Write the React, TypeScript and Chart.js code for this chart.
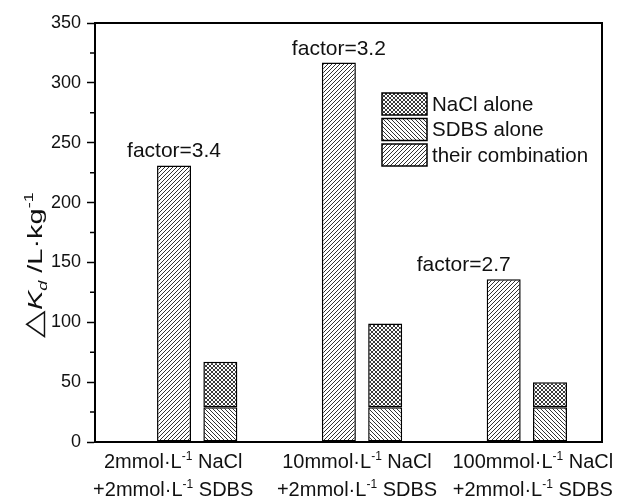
import React, { useEffect, useRef } from 'react';
import { Chart, registerables } from 'chart.js';

Chart.register(...registerables);

// ---------- data ----------
const categories: string[][] = [
  ['2mmol·L^{-1} NaCl', '+2mmol·L^{-1} SDBS'],
  ['10mmol·L^{-1} NaCl', '+2mmol·L^{-1} SDBS'],
  ['100mmol·L^{-1} NaCl', '+2mmol·L^{-1} SDBS'],
];
const combination = [231, 317, 136];
const sdbsAlone = [29, 29, 29];
const naclAlone = [38, 70, 21];
const factorLabels = ['factor=3.4', 'factor=3.2', 'factor=2.7'];
const seriesNames = { combination: 'their combination', sdbs: 'SDBS alone', nacl: 'NaCl alone' };
const yTickValues = [0, 50, 100, 150, 200, 250, 300, 350];
const yMinorValues = [25, 75, 125, 175, 225, 275, 325];

// ---------- styling / layout ----------
const FONT = '"Liberation Sans", Arial, Helvetica, sans-serif';
const TEXT = '#111';
const xLabelNudge = [-24, -5, 6];
const factorNudge = [0, 0, -40];

type Seg = { t: string; sup?: boolean; sub?: boolean; it?: boolean; k?: number };

function parseRich(s: string): Seg[] {
  const out: Seg[] = [];
  const re = /\^\{([^}]*)\}/g;
  let last = 0;
  let m: RegExpExecArray | null;
  while ((m = re.exec(s))) {
    if (m.index > last) out.push({ t: s.slice(last, m.index) });
    out.push({ t: m[1], sup: true });
    last = re.lastIndex;
  }
  if (last < s.length) out.push({ t: s.slice(last) });
  return out;
}

function segFont(seg: Seg, size: number) {
  let sz = seg.sup || seg.sub ? Math.round(size * 0.6) : size;
  if (seg.k) sz = sz * seg.k;
  return `${seg.it ? 'italic ' : ''}${sz}px ${FONT}`;
}

function richWidth(ctx: CanvasRenderingContext2D, segs: Seg[], size: number) {
  let w = 0;
  for (const s of segs) {
    ctx.font = segFont(s, size);
    w += ctx.measureText(s.t).width;
  }
  return w;
}

// draws text centred at (x, y) baseline, stretched horizontally by sx
function drawRich(ctx: CanvasRenderingContext2D, segs: Seg[], x: number, y: number, size: number, sx = 1) {
  const w = richWidth(ctx, segs, size);
  ctx.save();
  ctx.translate(x, y);
  ctx.scale(sx, 1);
  let cx = -w / 2;
  ctx.textAlign = 'left';
  ctx.textBaseline = 'alphabetic';
  for (const s of segs) {
    ctx.font = segFont(s, size);
    const dy = s.sup ? -size * 0.42 : s.sub ? size * 0.22 : 0;
    ctx.fillText(s.t, cx, dy);
    cx += ctx.measureText(s.t).width;
  }
  ctx.restore();
}

function makeHatch(kind: 'fwd' | 'back' | 'cross', size: number, color: string, lw: number) {
  const c = document.createElement('canvas');
  c.width = size;
  c.height = size;
  const g = c.getContext('2d')!;
  g.fillStyle = '#fff';
  g.fillRect(0, 0, size, size);
  g.strokeStyle = color;
  g.lineWidth = lw;
  g.beginPath();
  if (kind === 'fwd' || kind === 'cross') {
    g.moveTo(-1, size + 1); g.lineTo(size + 1, -1);
    g.moveTo(-1, 1); g.lineTo(1, -1);
    g.moveTo(size - 1, size + 1); g.lineTo(size + 1, size - 1);
  }
  if (kind === 'back' || kind === 'cross') {
    g.moveTo(-1, -1); g.lineTo(size + 1, size + 1);
    g.moveTo(size - 1, -1); g.lineTo(size + 1, 1);
    g.moveTo(-1, size - 1); g.lineTo(1, size + 1);
  }
  g.stroke();
  return g.createPattern(c, 'repeat') as CanvasPattern;
}

const yTitle: Seg[] = [
  { t: '△', k: 1.25 },
  { t: 'K', it: true },
  { t: 'd', it: true, sub: true },
  { t: ' /L·kg' },
  { t: '-1', sup: true },
];

const decorPlugin = {
  id: 'decor',
  afterDatasetsDraw(chart: any) {
    const { ctx, chartArea } = chart;
    const { left, top, right, bottom } = chartArea;
    const ys = chart.scales.y;
    const xs = chart.scales.x;
    ctx.save();
    // frame
    ctx.strokeStyle = '#000';
    ctx.lineWidth = 2;
    ctx.strokeRect(left, top, right - left, bottom - top);
    // minor ticks
    ctx.lineWidth = 1.5;
    ctx.beginPath();
    for (const v of yMinorValues) {
      const py = ys.getPixelForValue(v);
      ctx.moveTo(left - 5, py);
      ctx.lineTo(left, py);
    }
    ctx.stroke();
    ctx.fillStyle = TEXT;
    // x labels
    categories.forEach((lines, i) => {
      const cx = xs.getPixelForValue(i + 1) + xLabelNudge[i];
      lines.forEach((ln, j) => {
        drawRich(ctx, parseRich(ln), cx, bottom + 26 + j * 28, 20, 1);
      });
    });
    // factor annotations
    const meta = chart.getDatasetMeta(0);
    meta.data.forEach((bar: any, i: number) => {
      ctx.font = `21px ${FONT}`;
      ctx.textAlign = 'center';
      ctx.textBaseline = 'alphabetic';
      ctx.fillText(factorLabels[i], bar.x + factorNudge[i], bar.y - 8);
    });
    // y title
    ctx.save();
    ctx.translate(42, 265);
    ctx.rotate(-Math.PI / 2);
    drawRich(ctx, yTitle, 0, 0, 21, 1.38);
    ctx.restore();
    // legend
    const order = [2, 1, 0];
    const lx = left + 287;
    let ly = top + 70;
    order.forEach((di) => {
      const ds = chart.data.datasets[di];
      ctx.fillStyle = ds.backgroundColor;
      ctx.fillRect(lx, ly, 45, 22);
      ctx.strokeStyle = '#000';
      ctx.lineWidth = 1.5;
      ctx.strokeRect(lx, ly, 45, 22);
      ctx.fillStyle = TEXT;
      ctx.font = `20.5px ${FONT}`;
      ctx.textAlign = 'left';
      ctx.textBaseline = 'middle';
      ctx.fillText(ds.label, lx + 50, ly + 12);
      ly += 25.5;
    });
    ctx.restore();
  },
};

export default function App() {
  const ref = useRef<HTMLCanvasElement | null>(null);
  useEffect(() => {
    if (!ref.current) return;
    const fwd = makeHatch('fwd', 4, '#333', 1);
    const back = makeHatch('back', 4, '#333', 1);
    const cross = makeHatch('cross', 4, '#3a3a3a', 1);
    const toPts = (arr: number[]) => arr.map((v, i) => ({ x: i + 1, y: v }));
    const chart = new Chart(ref.current, {
      type: 'bar',
      data: {
        datasets: [
          { label: seriesNames.combination, data: toPts(combination) as any, stack: 'c', backgroundColor: fwd as any, borderColor: '#000', borderWidth: 1.5, borderSkipped: false },
          { label: seriesNames.sdbs, data: toPts(sdbsAlone) as any, stack: 'a', backgroundColor: back as any, borderColor: '#000', borderWidth: 1.5, borderSkipped: false },
          { label: seriesNames.nacl, data: toPts(naclAlone) as any, stack: 'a', backgroundColor: cross as any, borderColor: '#000', borderWidth: 1.5, borderSkipped: false },
        ],
      },
      options: {
        animation: false,
        responsive: false,
        devicePixelRatio: 1,
        layout: { padding: { left: 0, right: 18, top: 23, bottom: 0 } },
        plugins: { legend: { display: false }, tooltip: { enabled: false } },
        datasets: { bar: { categoryPercentage: 0.562, barPercentage: 0.734 } },
        scales: {
          x: {
            type: 'linear',
            display: true,
            min: 0.38,
            max: 3.456,
            offset: false,
            ticks: { display: false },
            grid: { display: false },
            border: { display: false },
            afterBuildTicks: (s: any) => { s.ticks = categories.map((_, i) => ({ value: i + 1 })); },
            afterFit: (s: any) => { s.height = 56; },
          },
          y: {
            min: 0,
            max: 350,
            stacked: true,
            afterBuildTicks: (s: any) => { s.ticks = yTickValues.map((v) => ({ value: v })); },
            afterFit: (s: any) => { s.width = 95; },
            ticks: { font: { family: FONT, size: 18 }, color: TEXT, padding: 6 },
            grid: { drawOnChartArea: false, tickLength: 8, tickWidth: 1.5, tickColor: '#000' },
            border: { display: true, color: '#000', width: 2 },
          },
        },
      } as any,
      plugins: [decorPlugin],
    });
    return () => chart.destroy();
  }, []);
  return (
    <div style={{ position: 'fixed', left: 0, top: 0, width: 620, height: 498, background: '#fff' }}>
      <canvas ref={ref} width={620} height={498} />
    </div>
  );
}
